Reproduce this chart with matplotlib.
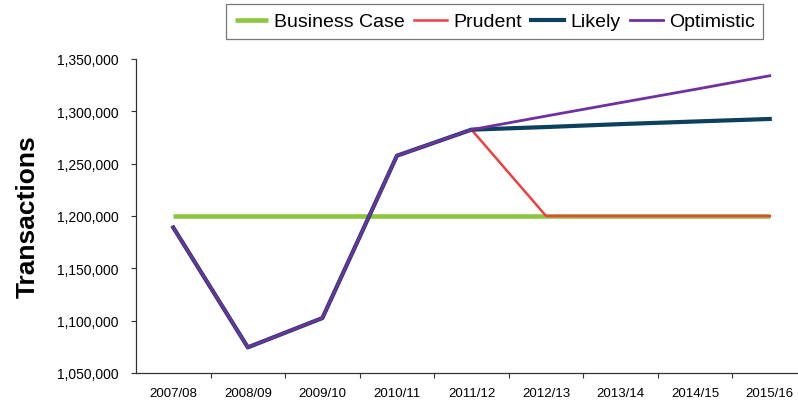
import matplotlib
matplotlib.use("Agg")
import matplotlib.pyplot as plt
from matplotlib.ticker import FuncFormatter, FixedLocator

plt.rcParams['font.family'] = ['Liberation Sans', 'DejaVu Sans']

years = ["2007/08", "2008/09", "2009/10", "2010/11", "2011/12",
         "2012/13", "2013/14", "2014/15", "2015/16"]
business_case = [1200000] * 9
prudent = [1189000, 1074500, 1102500, 1257600, 1282500,
           1200000, 1200000, 1200000, 1200000]
likely = [1189000, 1074500, 1102500, 1257600, 1282500,
          1285000, 1287800, 1290300, 1292700]
optimistic = [1189000, 1074500, 1102500, 1257600, 1282500,
              1295500, 1308300, 1321000, 1334000]

fig = plt.figure(figsize=(7.98, 4.06), dpi=100)
ax = fig.add_axes([136/798, 1 - 374/406, 671/798, 314/406])

x = list(range(len(years)))
ax.plot(x, business_case, color="#8DC63F", lw=3.3, solid_capstyle="butt", label="Business Case", zorder=2)
ax.plot(x, prudent, color="#EE4040", lw=1.8, label="Prudent", zorder=3)
ax.plot(x, likely, color="#0D3F5F", lw=3.0, label="Likely", zorder=4)
ax.plot(x, optimistic, color="#7030A0", lw=2.0, label="Optimistic", zorder=5)

ax.set_xlim(-0.5, 8.5)
ax.set_ylim(1050000, 1350000)
ax.set_yticks([1050000, 1100000, 1150000, 1200000, 1250000, 1300000, 1350000])
ax.yaxis.set_major_formatter(FuncFormatter(lambda v, p: f"{int(v):,}"))

ax.set_xticks(x)
ax.set_xticklabels(years)
ax.xaxis.set_minor_locator(FixedLocator([i + 0.5 for i in range(8)]))
ax.tick_params(axis="x", which="major", length=0, pad=10, labelsize=9.5)
ax.tick_params(axis="x", which="minor", length=3.5, width=0.8, direction="out", color="#333333")
ax.tick_params(axis="y", which="major", length=3.5, width=0.8, direction="out", labelsize=10, color="#333333", pad=9)

for s in ["top", "right"]:
    ax.spines[s].set_visible(False)
for s in ["left", "bottom"]:
    ax.spines[s].set_color("#333333")
    ax.spines[s].set_linewidth(0.9)

ax.set_ylabel("Transactions", fontsize=19, fontweight="bold", labelpad=12)

leg = fig.legend(loc="upper left", bbox_to_anchor=(226/798, 1 - 5/406), ncol=4,
                 frameon=True, fancybox=False, fontsize=14, handlelength=1.7,
                 handletextpad=0.3, columnspacing=0.5, borderpad=0.45,
                 borderaxespad=0, edgecolor="#555555")
leg.get_frame().set_linewidth(0.9)

fig.savefig("out.png", dpi=100)
